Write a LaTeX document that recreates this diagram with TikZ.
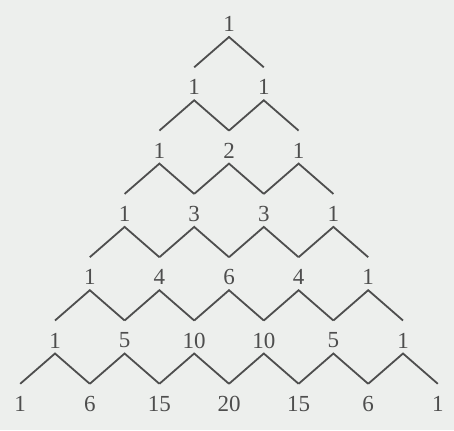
\documentclass[tikz,border=0pt]{standalone}
\usepackage{fontspec}
\setmainfont{Liberation Serif}
\usetikzlibrary{calc}
\definecolor{bgpaper}{RGB}{237,239,237}
\definecolor{inkgray}{RGB}{78,78,78}
\begin{document}
\begin{tikzpicture}[x=1pt,y=-1pt,
  num/.style={inner sep=0pt,text=inkgray,font=\fontsize{23}{27}\selectfont},
  edge/.style={draw=inkgray,line width=1.8pt,line join=miter}]
\fill[bgpaper] (0,0) rectangle (454,430);
\useasboundingbox (0,0) rectangle (454,430);
\foreach \r/\vals in {0/{1},1/{1,1},2/{1,2,1},3/{1,3,3,1},4/{1,4,6,4,1},5/{1,5,10,10,5,1},6/{1,6,15,20,15,6,1}}{
  \foreach \v [count=\kk from 0] in \vals {
    \node[num] (n-\r-\kk) at ({229+34.8*(2*\kk-\r)},{24+63.3*\r}) {\v};
    \coordinate (a-\r-\kk) at ($(n-\r-\kk)+(0,13)$);
    \coordinate (t-\r-\kk) at ($(n-\r-\kk)+(0,-20)$);
  }
}
\foreach \r [evaluate=\r as \rn using int(\r+1)] in {0,...,5}{
  \foreach \k [evaluate=\k as \kn using int(\k+1)] in {0,...,\r}{
    \draw[edge] (t-\rn-\k) -- (a-\r-\k) -- (t-\rn-\kn);
  }
}
\end{tikzpicture}
\end{document}
